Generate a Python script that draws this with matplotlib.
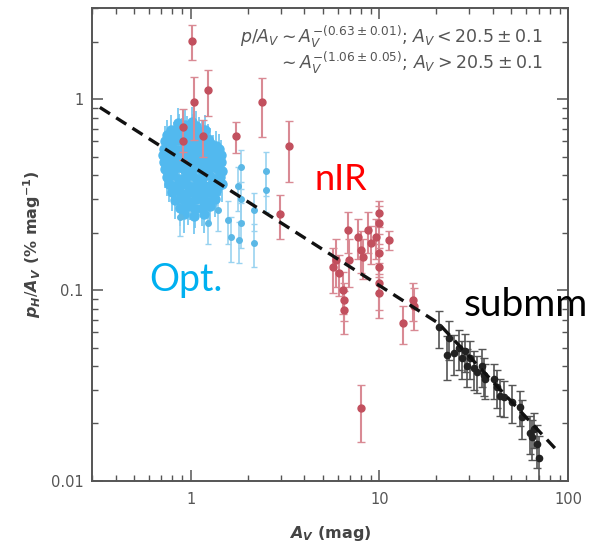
import matplotlib
matplotlib.use("Agg")
import matplotlib.pyplot as plt
import numpy as np

# optical polarization (dense cloud + sparse points)
opt_av = [0.86, 0.93, 1.01, 1.07,
          0.79, 0.87, 0.95, 1.03, 1.11, 1.19,
          0.75, 0.82, 0.90, 0.97, 1.06, 1.15, 1.24,
          0.73, 0.79, 0.86, 0.93, 1.00, 1.08, 1.17, 1.27, 1.36,
          0.72, 0.78, 0.84, 0.91, 0.98, 1.04, 1.12, 1.21, 1.31, 1.41,
          0.71, 0.77, 0.83, 0.89, 0.96, 1.02, 1.09, 1.18, 1.26, 1.36, 1.45,
          0.72, 0.78, 0.84, 0.90, 0.96, 1.03, 1.10, 1.17, 1.25, 1.34, 1.44,
          0.73, 0.80, 0.86, 0.92, 0.99, 1.05, 1.13, 1.21, 1.30, 1.39, 1.47,
          0.75, 0.81, 0.87, 0.94, 1.01, 1.08, 1.16, 1.25, 1.34, 1.43,
          0.77, 0.83, 0.90, 0.96, 1.03, 1.10, 1.19, 1.28, 1.38, 1.46,
          0.80, 0.87, 0.94, 1.01, 1.09, 1.17, 1.26, 1.36,
          0.83, 0.91, 0.99, 1.07, 1.16, 1.25, 1.34,
          0.88, 0.97, 1.06, 1.15, 1.26,
          0.92, 1.04, 1.17]
opt_p = [0.75, 0.73, 0.76, 0.72,
         0.69, 0.70, 0.68, 0.70, 0.67, 0.69,
         0.65, 0.63, 0.66, 0.64, 0.63, 0.65, 0.62,
         0.60, 0.58, 0.61, 0.59, 0.60, 0.58, 0.61, 0.59, 0.57,
         0.55, 0.56, 0.54, 0.55, 0.56, 0.54, 0.55, 0.56, 0.54, 0.55,
         0.51, 0.50, 0.52, 0.51, 0.50, 0.52, 0.51, 0.50, 0.52, 0.50, 0.51,
         0.47, 0.46, 0.48, 0.47, 0.46, 0.47, 0.48, 0.46, 0.47, 0.46, 0.47,
         0.43, 0.42, 0.44, 0.43, 0.42, 0.44, 0.43, 0.42, 0.44, 0.43, 0.42,
         0.39, 0.40, 0.38, 0.39, 0.40, 0.38, 0.39, 0.40, 0.38, 0.39,
         0.36, 0.35, 0.36, 0.355, 0.345, 0.36, 0.35, 0.355, 0.345, 0.36,
         0.325, 0.33, 0.32, 0.325, 0.33, 0.32, 0.325, 0.33,
         0.295, 0.30, 0.29, 0.30, 0.295, 0.29, 0.30,
         0.27, 0.275, 0.265, 0.27, 0.275,
         0.25, 0.245, 0.25]

opt2_av = [1.84, 1.78, 1.84, 2.50, 2.50, 2.16, 1.80, 2.16, 1.57, 1.63, 1.84, 1.39, 1.23, 0.88]
opt2_p = [0.44, 0.35, 0.30, 0.42, 0.336, 0.263, 0.183, 0.177, 0.234, 0.19, 0.225, 0.263, 0.225, 0.242]
opt2_err = [0.10, 0.09, 0.07, 0.11, 0.08, 0.06, 0.045, 0.045, 0.06, 0.05, 0.06, 0.06, 0.05, 0.05]

# near-infrared polarization
nir_av = [1.01, 1.04, 1.23, 0.91, 1.16, 0.91, 2.39, 1.74, 3.33, 2.97,
          5.7, 5.9, 6.1, 6.4, 6.5, 6.5, 6.8, 6.9, 7.7, 8.0, 8.2, 8.7, 9.0,
          9.6, 9.9, 9.9, 9.9, 10.0, 9.9, 9.9, 11.3, 15.1, 15.3, 13.4, 8.0]
nir_p = [2.02, 0.96, 1.12, 0.71, 0.64, 0.60, 0.96, 0.64, 0.57, 0.25,
         0.132, 0.144, 0.123, 0.100, 0.089, 0.079, 0.207, 0.144, 0.19, 0.163, 0.149, 0.207, 0.177,
         0.19, 0.254, 0.225, 0.157, 0.132, 0.109, 0.096, 0.183, 0.089, 0.082, 0.067, 0.024]
nir_err = [0.42, 0.35, 0.30, 0.18, 0.14, 0.12, 0.33, 0.12, 0.20, 0.065,
           0.035, 0.04, 0.03, 0.025, 0.02, 0.02, 0.05, 0.04, 0.045, 0.04, 0.035, 0.05, 0.04,
           0.045, 0.04, 0.05, 0.04, 0.035, 0.03, 0.025, 0.02, 0.02, 0.02, 0.015, 0.008]

# submillimetre polarization
sub_av = [20.8, 22.7, 23.5, 24.7, 26.5, 27.3, 28.3, 29.0, 30.1, 31.6, 32.7, 34.9,
          35.7, 36.3, 40.4, 41.9, 43.6, 45.5, 50.3, 55.5, 56.9, 62.8, 65.8, 64.4, 68.5, 70.1]
sub_p = [0.064, 0.0456, 0.056, 0.047, 0.050, 0.044, 0.048, 0.040, 0.044, 0.039, 0.037, 0.040,
         0.036, 0.034, 0.034, 0.031, 0.028, 0.0275, 0.026, 0.0245, 0.0215, 0.0178, 0.0188, 0.0169,
         0.0157, 0.0132]
sub_err = [0.014, 0.012, 0.013, 0.011, 0.012, 0.010, 0.011, 0.009, 0.010, 0.009, 0.008, 0.009,
           0.008, 0.007, 0.007, 0.007, 0.006, 0.006, 0.006, 0.005, 0.005, 0.004, 0.004, 0.004,
           0.004, 0.004]

# broken power-law fit
fit_amp = 0.45          # p/A_V at A_V = 1
fit_break = 20.5
fit_slope1 = -0.63
fit_slope2 = -1.06

plt.rcParams['mathtext.fontset'] = 'dejavusans'

fig = plt.figure(figsize=(5.9, 5.5), dpi=100)
ax = fig.add_axes([0.156, 0.1255, 0.807, 0.86])

ax.errorbar(opt_av, opt_p, yerr=[0.2 * v for v in opt_p], fmt='o', ms=6.5,
            color='#52B9EF', ecolor='#6CC4F0', elinewidth=1.2, capsize=0, zorder=2)
ax.errorbar(opt2_av, opt2_p, yerr=opt2_err, fmt='o', ms=4,
            color='#5BB8E6', ecolor='#9AD3F0', elinewidth=1.2, capsize=2.5, zorder=2)
ax.errorbar(nir_av, nir_p, yerr=nir_err, fmt='o', ms=5,
            color='#C2505E', ecolor='#D98A94', elinewidth=1.5, capsize=3, zorder=3)
ax.errorbar(sub_av, sub_p, yerr=sub_err, fmt='o', ms=4.5,
            color='#222222', ecolor='#555555', elinewidth=1.2, capsize=3, zorder=3)

x1 = np.array([0.33, fit_break])
x2 = np.array([fit_break, 85.0])
y1 = fit_amp * x1 ** fit_slope1
y2 = fit_amp * fit_break ** fit_slope1 * (x2 / fit_break) ** fit_slope2
ax.plot(np.concatenate([x1, x2]), np.concatenate([y1, y2]), color='#111111',
        lw=2.4, ls=(0, (3.6, 2.2)), zorder=4)

ax.set_xscale('log')
ax.set_yscale('log')
ax.set_xlim(0.3, 100)
ax.set_ylim(0.01, 3)
ax.set_xticks([1, 10, 100])
ax.set_xticklabels(['1', '10', '100'])
ax.set_yticks([0.01, 0.1, 1])
ax.set_yticklabels(['0.01', '0.1', '1'])
ax.tick_params(which='both', direction='in', top=True, right=True,
               colors='#555555', labelsize=10.5, labelcolor='#555555')
ax.tick_params(which='major', length=8, width=1.1)
ax.tick_params(which='minor', length=4, width=1)
ax.tick_params(axis='x', pad=8)
ax.tick_params(axis='y', pad=6)
for sp in ax.spines.values():
    sp.set_color('#555555')
    sp.set_linewidth(1.4)

ax.set_xlabel(r'$\mathbfit{A}_\mathbfit{V}$ (mag)', fontsize=11.5, fontweight='bold',
              color='#444444', labelpad=12)
ax.set_ylabel(r'$\mathbfit{p}_\mathbfit{H}/\mathbfit{A}_\mathbfit{V}$ (% mag$^{\mathbf{-1}}$)',
              fontsize=11.5, fontweight='bold', color='#444444', labelpad=6)

ax.text(0.947, 0.94, r'$p/A_V \sim A_V^{-(0.63\pm0.01)}$; $A_V < 20.5\pm0.1$',
        transform=ax.transAxes, ha='right', va='center', fontsize=12.5, color='#555555')
ax.text(0.947, 0.885, r'$\sim A_V^{-(1.06\pm0.05)}$; $A_V > 20.5\pm0.1$',
        transform=ax.transAxes, ha='right', va='center', fontsize=12.5, color='#555555')

fig.text(341 / 590, 1 - 180 / 550, 'nIR', color='#FF0000', fontsize=26,
         family='Lato', ha='center', va='center')
fig.text(186 / 590, 1 - 280 / 550, 'Opt.', color='#00B0F0', fontsize=27,
         family='Lato', ha='center', va='center')
fig.text(526 / 590, 1 - 305 / 550, 'submm', color='#000000', fontsize=28,
         family='Lato', ha='center', va='center')

fig.savefig('out.png', dpi=100)
